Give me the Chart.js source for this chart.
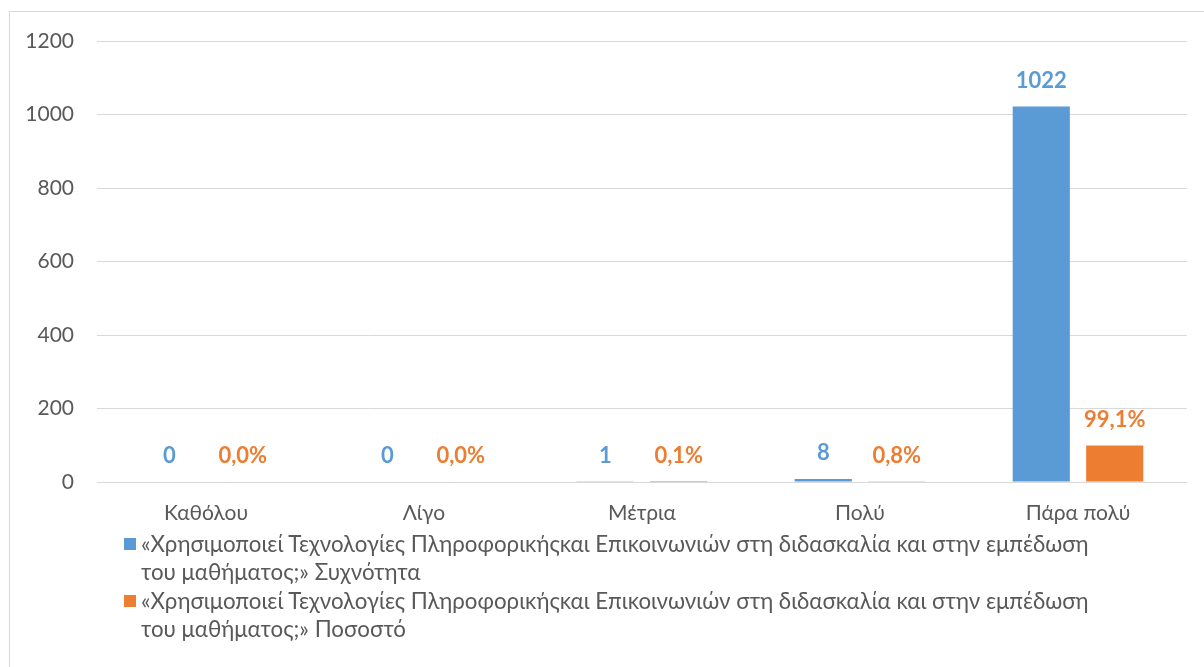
<!DOCTYPE html>
<html>
<head>
<meta charset="utf-8">
<script src="https://cdn.jsdelivr.net/npm/chart.js@4.4.1/dist/chart.umd.min.js"></script>
<style>
	html, body { margin: 0; padding: 0; background: #fff; overflow: hidden; }
	body { width: 1204px; height: 667px; position: relative; font-family: Lato, 'Open Sans', sans-serif; }
	.frame { position: absolute; left: 9px; top: 11px; width: 1300px; height: 800px; border: 1px solid #d9d9d9; }
	.wrap { position: absolute; left: 0; top: 0; width: 1204px; height: 540px; }
	.legend-item { position: absolute; left: 124px; font-size: 22.3px; line-height: 28px; color: #595959; }
	.legend-item .box { position: absolute; left: 0; top: 8px; width: 12px; height: 12px; }
	.legend-item .txt { margin-left: 17px; white-space: nowrap; }
</style>
</head>
<body>
<div class="frame"></div>
<div class="wrap"><canvas id="myChart"></canvas></div>
<div class="legend-item" id="leg0" style="top:530px"></div>
<div class="legend-item" id="leg1" style="top:587px"></div>
<script>
//Data

let categories = ['Καθόλου', 'Λίγο', 'Μέτρια', 'Πολύ', 'Πάρα πολύ'];
let frequency = [0, 0, 1, 8, 1022];
let percent = [0.0, 0.0, 0.1, 0.8, 99.1];
let yTicks = [0, 200, 400, 600, 800, 1000, 1200];
let seriesNames = [
	['«Χρησιμοποιεί Τεχνολογίες Πληροφορικήςκαι Επικοινωνιών στη διδασκαλία και στην εμπέδωση', 'του μαθήματος;» Συχνότητα'],
	['«Χρησιμοποιεί Τεχνολογίες Πληροφορικήςκαι Επικοινωνιών στη διδασκαλία και στην εμπέδωση', 'του μαθήματος;» Ποσοστό']
];
let colors = ['#5B9BD5', '#ED7D31'];

let fontFamily = "Lato, 'Open Sans', sans-serif";
let textColor = '#595959';

//Legend (html, wraps like the original)

seriesNames.forEach(function (lines, i) {
	let el = document.getElementById('leg' + i);
	el.innerHTML = '<span class="box" style="background:' + colors[i] + '"></span>' +
		'<div class="txt">' + lines[0] + '</div><div class="txt">' + lines[1] + '</div>';
});

//Value labels above bars

const valueLabels = {
	id: 'valueLabels',
	afterDatasetsDraw(chart) {
		let ctx = chart.ctx;
		ctx.save();
		ctx.font = 'bold 22px ' + fontFamily;
		ctx.textAlign = 'center';
		ctx.textBaseline = 'middle';
		chart.data.datasets.forEach(function (ds, i) {
			let meta = chart.getDatasetMeta(i);
			ctx.fillStyle = colors[i];
			meta.data.forEach(function (bar, j) {
				let v = ds.data[j];
				let text = i === 0 ? String(v) : v.toFixed(1).replace('.', ',') + '%';
				ctx.fillText(text, bar.x, bar.y - 26);
			});
		});
		ctx.restore();
	}
};

//Build chart

const ctx = document.getElementById('myChart').getContext('2d');
const myChart = new Chart(ctx, {
	type: 'bar',
	data: {
		labels: categories,
		datasets: [{
			label: seriesNames[0].join(' '),
			data: frequency,
			backgroundColor: colors[0],
			categoryPercentage: 0.674,
			barPercentage: 0.778
		}, {
			label: seriesNames[1].join(' '),
			data: percent,
			backgroundColor: colors[1],
			categoryPercentage: 0.674,
			barPercentage: 0.778
		}]
	},
	options: {
		responsive: true,
		maintainAspectRatio: false,
		animation: false,
		layout: {
			padding: { left: 0, top: 41, right: 17, bottom: 0 }
		},
		plugins: {
			legend: { display: false },
			tooltip: { enabled: false }
		},
		scales: {
			x: {
				grid: { display: false, drawTicks: false },
				border: { display: false },
				ticks: { color: textColor, font: { family: fontFamily, size: 21 }, padding: 19 },
				afterFit: function (scale) { scale.height = 58; }
			},
			y: {
				min: 0,
				max: 1200,
				afterBuildTicks: function (scale) { scale.ticks = yTicks.map(function (v) { return { value: v }; }); },
				grid: { color: '#d9d9d9', lineWidth: 1, drawTicks: false },
				border: { display: false },
				ticks: {
					color: textColor,
					font: { family: fontFamily, size: 21 },
					padding: 23,
					callback: function (value) { return String(value); }
				},
				afterFit: function (scale) { scale.width = 97; }
			}
		}
	},
	plugins: [valueLabels]
});
</script>
</body>
</html>
